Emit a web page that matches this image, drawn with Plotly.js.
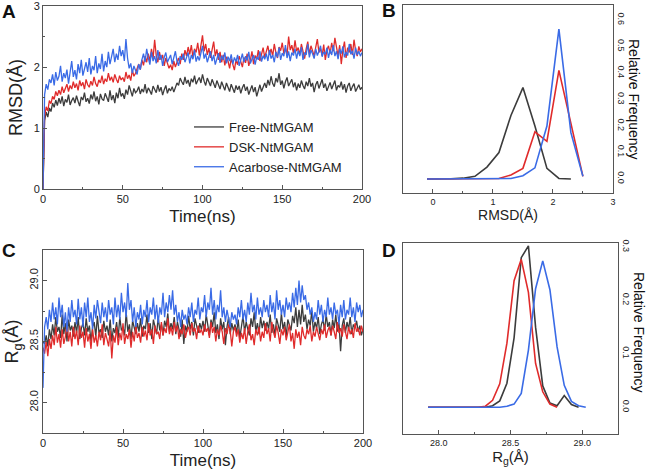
<!DOCTYPE html>
<html>
<head>
<meta charset="utf-8">
<script src="https://cdn.plot.ly/plotly-3.0.1.min.js"></script>
<style>html,body{margin:0;padding:0;background:#fff}#chart{width:648px;height:471px}</style>
</head>
<body>
<div id="chart"></div>
<script>
// ---------- DATA ----------
const seriesNames = ["Free-NtMGAM", "DSK-NtMGAM", "Acarbose-NtMGAM"];
const seriesColors = ["#3c3c3c", "#e02b2b", "#3a6be6"];

// Panel A: RMSD (Å) vs time (ns), one value per ns from 0 to 200
const rmsdFree = [
0,1.12,1.26,1.18,1.33,1.27,1.41,1.34,1.46,1.37,1.49,1.40,1.52,1.36,1.47,1.42,1.55,1.38,1.45,1.50,
1.41,1.53,1.44,1.36,1.51,1.46,1.58,1.43,1.49,1.40,1.55,1.47,1.60,1.44,1.52,1.39,1.56,1.48,1.45,1.57,
1.50,1.43,1.62,1.46,1.54,1.41,1.58,1.49,1.66,1.52,1.57,1.48,1.63,1.55,1.70,1.59,1.52,1.65,1.58,1.61,
1.68,1.56,1.64,1.59,1.72,1.57,1.66,1.61,1.55,1.69,1.62,1.58,1.71,1.60,1.67,1.54,1.63,1.70,1.57,1.65,
1.61,1.68,1.59,1.66,1.74,1.70,1.82,1.76,1.71,1.84,1.73,1.79,1.68,1.81,1.75,1.86,1.72,1.78,1.83,1.74,
1.88,1.77,1.70,1.82,1.75,1.69,1.80,1.73,1.66,1.78,1.71,1.64,1.76,1.68,1.62,1.74,1.67,1.60,1.72,1.65,
1.58,1.70,1.63,1.69,1.57,1.66,1.72,1.61,1.68,1.55,1.64,1.70,1.59,1.67,1.52,1.63,1.71,1.60,1.68,1.74,
1.66,1.79,1.70,1.85,1.73,1.68,1.82,1.75,1.90,1.71,1.78,1.65,1.76,1.83,1.69,1.74,1.80,1.67,1.75,1.62,
1.73,1.66,1.78,1.70,1.64,1.76,1.69,1.82,1.68,1.74,1.59,1.71,1.77,1.65,1.72,1.80,1.66,1.73,1.61,1.69,
1.75,1.64,1.71,1.78,1.62,1.70,1.67,1.76,1.63,1.72,1.58,1.69,1.74,1.61,1.68,1.73,1.60,1.66,1.71,1.63,1.67];
const rmsdDSK = [
0,1.18,1.35,1.28,1.45,1.40,1.52,1.47,1.60,1.53,1.62,1.55,1.68,1.58,1.65,1.72,1.60,1.70,1.64,1.76,
1.66,1.73,1.62,1.78,1.69,1.75,1.64,1.80,1.71,1.67,1.77,1.70,1.84,1.73,1.68,1.79,1.74,1.86,1.72,1.81,
1.76,1.90,1.78,1.84,1.75,1.88,1.80,1.74,1.86,1.79,1.83,1.76,1.92,1.81,1.87,1.78,1.95,1.85,1.90,1.98,
2.05,1.96,2.12,2.03,2.18,2.08,2.22,2.10,2.30,2.14,2.45,2.19,2.08,2.25,2.12,2.20,2.02,2.15,2.06,1.98,
2.04,1.95,2.10,2.00,2.08,2.15,2.05,2.22,2.12,2.28,2.18,2.33,2.21,2.36,2.16,2.30,2.24,2.40,2.19,2.34,
2.52,2.26,2.38,2.20,2.31,2.15,2.27,2.42,2.18,2.29,2.12,2.25,2.08,2.20,2.03,2.17,2.10,1.98,2.14,2.06,
1.95,2.12,2.04,2.18,2.09,2.00,2.16,2.07,2.22,2.02,2.11,2.26,2.05,2.19,2.13,2.28,2.10,2.21,2.32,2.16,
2.25,2.35,2.20,2.30,2.18,2.38,2.24,2.15,2.33,2.27,2.40,2.22,2.31,2.19,2.50,2.28,2.36,2.23,2.44,2.26,
2.32,2.20,2.38,2.25,2.14,2.30,2.42,2.21,2.35,2.27,2.18,2.33,2.46,2.24,2.30,2.19,2.37,2.12,2.28,2.35,
2.22,2.40,2.26,2.48,2.30,2.18,2.36,2.05,2.28,2.42,2.15,2.32,2.24,2.38,2.20,2.45,2.27,2.18,2.34,2.25,2.30];
const rmsdAcarbose = [
0,1.55,1.72,1.63,1.80,1.74,1.88,1.70,1.92,1.78,1.85,2.02,1.76,1.90,1.82,1.96,1.73,1.88,2.10,1.84,
1.95,1.80,2.05,1.90,2.12,1.86,1.98,2.08,1.92,2.15,1.88,2.02,1.95,2.18,1.90,2.06,1.97,2.22,1.93,2.10,
2.00,2.25,2.05,2.16,2.30,2.08,2.22,2.12,2.35,2.18,2.28,2.10,2.46,2.15,1.98,2.06,1.90,2.02,1.94,1.88,
2.05,1.96,2.12,2.22,2.08,2.30,2.15,2.04,2.25,2.10,2.18,2.06,2.28,2.12,2.20,2.02,2.16,2.24,2.08,2.14,
2.20,2.05,2.15,2.26,2.10,2.02,2.18,2.12,2.22,2.08,2.16,2.24,2.06,2.20,2.13,2.28,2.09,2.18,2.11,2.25,
2.35,2.14,2.22,2.08,2.18,2.26,2.10,2.20,2.04,2.16,2.23,2.07,2.19,2.12,2.24,2.06,2.17,2.10,2.21,2.05,
2.16,2.09,2.20,2.02,2.14,2.22,2.08,2.18,2.11,2.25,2.06,2.15,2.20,2.04,2.17,2.12,2.26,2.09,2.19,2.13,
2.22,2.10,2.28,2.14,2.20,2.08,2.25,2.16,2.32,2.12,2.23,2.18,2.36,2.15,2.26,2.10,2.24,2.19,2.30,2.14,
2.27,2.18,2.33,2.12,2.24,2.20,2.38,2.16,2.28,2.22,2.14,2.30,2.19,2.26,2.35,2.17,2.25,2.21,2.32,2.15,
2.28,2.20,2.36,2.18,2.26,2.13,2.30,2.22,2.34,2.16,2.25,2.19,2.38,2.21,2.27,2.14,2.32,2.20,2.26,2.18,2.24];

// Panel C: Rg (Å) vs time (ns)
const rgFree = [
28.50,28.48,28.55,28.46,28.60,28.52,28.64,28.55,28.70,28.58,28.62,28.53,28.72,28.56,28.65,28.50,28.68,28.59,28.63,28.54,
28.66,28.57,28.70,28.52,28.61,28.65,28.55,28.69,28.58,28.63,28.50,28.62,28.66,28.54,28.71,28.57,28.60,28.53,28.67,28.58,
28.63,28.55,28.68,28.50,28.61,28.57,28.66,28.53,28.70,28.59,28.62,28.55,28.74,28.58,28.64,28.52,28.67,28.60,28.56,28.65,
28.58,28.69,28.54,28.63,28.60,28.72,28.57,28.65,28.52,28.68,28.61,28.56,28.70,28.59,28.64,28.55,28.67,28.62,28.73,28.58,
28.65,28.60,28.70,28.56,28.66,28.61,28.54,28.68,28.48,28.63,28.58,28.71,28.60,28.66,28.55,28.69,28.62,28.57,28.65,28.60,
28.67,28.58,28.72,28.61,28.55,28.68,28.62,28.74,28.57,28.64,28.52,28.69,28.60,28.66,28.47,28.62,28.70,28.56,28.65,28.59,
28.64,28.57,28.68,28.53,28.62,28.71,28.58,28.66,28.60,28.55,28.69,28.62,28.74,28.58,28.65,28.56,28.70,28.61,28.67,28.59,
28.66,28.60,28.72,28.57,28.64,28.55,28.69,28.62,28.58,28.73,28.60,28.66,28.54,28.68,28.63,28.59,28.71,28.65,28.78,28.62,
28.76,28.64,28.80,28.66,28.72,28.60,28.68,28.63,28.75,28.58,28.66,28.61,28.70,28.56,28.64,28.68,28.59,28.72,28.62,28.66,
28.55,28.68,28.61,28.72,28.58,28.65,28.42,28.63,28.69,28.57,28.66,28.60,28.70,28.56,28.64,28.61,28.67,28.58,28.63,28.55,28.60];
const rgDSK = [
28.45,28.40,28.50,28.38,28.52,28.44,28.55,28.47,28.62,28.49,28.56,28.45,28.60,28.48,28.54,28.66,28.50,28.58,28.46,28.62,
28.52,28.59,28.47,28.63,28.53,28.58,28.45,28.61,28.50,28.56,28.44,28.60,28.49,28.55,28.46,28.58,28.51,28.64,28.47,28.57,
28.52,28.46,28.59,28.36,28.55,28.49,28.62,28.47,28.57,28.51,28.65,28.48,28.56,28.52,28.60,28.45,28.58,28.50,28.63,28.53,
28.57,28.49,28.62,28.54,28.59,28.51,28.65,28.55,28.60,28.48,28.63,28.56,28.58,28.52,28.66,28.55,28.61,28.57,28.69,28.56,
28.62,28.55,28.66,28.58,28.63,28.52,28.60,28.56,28.64,28.53,28.59,28.62,28.55,28.65,28.58,28.61,28.52,28.63,28.57,28.60,
28.55,28.64,28.58,28.61,28.53,28.66,28.57,28.62,28.50,28.60,28.55,28.63,28.58,28.48,28.61,28.56,28.64,28.59,28.46,28.58,
28.62,28.54,28.60,28.49,28.57,28.52,28.61,28.48,28.58,28.64,28.51,28.56,28.47,28.60,28.55,28.62,28.50,28.58,28.53,28.65,
28.56,28.61,28.50,28.66,28.58,28.53,28.63,28.57,28.48,28.60,28.55,28.62,28.51,28.58,28.64,28.50,28.57,28.44,28.60,28.53,
28.58,28.47,28.62,28.55,28.52,28.60,28.56,28.63,28.50,28.58,28.54,28.62,28.57,28.51,28.60,28.56,28.64,28.53,28.59,28.62,
28.55,28.63,28.58,28.52,28.66,28.57,28.61,28.54,28.64,28.59,28.52,28.62,28.56,28.60,28.53,28.65,28.58,28.61,28.55,28.63,28.58];
const rgAcarbose = [
28.12,28.62,28.70,28.60,28.76,28.66,28.82,28.68,28.78,28.64,28.86,28.70,28.80,28.62,28.74,28.58,28.78,28.66,28.84,28.70,
28.76,28.64,28.85,28.68,28.78,28.62,28.82,28.70,28.86,28.66,28.74,28.60,28.80,28.69,28.84,28.72,28.65,28.82,28.70,28.78,
28.66,28.84,28.72,28.78,28.64,28.86,28.70,28.80,28.68,28.90,28.74,28.82,28.70,28.98,28.76,28.84,28.66,28.78,28.62,28.74,
28.68,28.80,28.64,28.76,28.70,28.84,28.66,28.78,28.72,28.86,28.68,28.80,28.65,28.78,28.72,28.90,28.70,28.82,28.74,28.88,
28.76,28.92,28.72,28.80,28.66,28.74,28.62,28.76,28.68,28.72,28.64,28.78,28.70,28.82,28.66,28.76,28.72,28.86,28.68,28.78,
28.74,28.88,28.70,28.82,28.76,28.94,28.72,28.84,28.68,28.80,28.74,28.92,28.70,28.78,28.66,28.76,28.70,28.62,28.74,28.68,
28.72,28.64,28.78,28.70,28.84,28.68,28.76,28.66,28.82,28.72,28.90,28.74,28.80,28.68,28.86,28.72,28.78,28.70,28.84,28.74,
28.80,28.70,28.88,28.74,28.82,28.68,28.92,28.76,28.84,28.72,28.80,28.70,28.86,28.76,28.82,28.74,28.90,28.78,28.94,28.80,
29.00,28.82,28.96,28.84,28.88,28.76,28.82,28.72,28.78,28.66,28.74,28.68,28.84,28.72,28.80,28.66,28.76,28.70,28.86,28.72,
28.78,28.68,28.82,28.72,28.76,28.64,28.80,28.70,28.84,28.68,28.76,28.72,28.86,28.70,28.78,28.66,28.82,28.74,28.80,28.70,28.76];

// Panel B: RMSD distribution (bin centres, Å) and relative frequency
const rmsdBins = [-0.1,0.1,0.3,0.5,0.7,0.9,1.1,1.3,1.5,1.7,1.9,2.1,2.3,2.5];
const rmsdFreqFree = [0,0,0.001,0.003,0.01,0.045,0.1,0.24,0.345,0.2,0.04,0.002,0];
const rmsdFreqDSK = [0,0,0,0,0,0,0.002,0.015,0.04,0.178,0.142,0.41,0.204,0.01];
const rmsdFreqAcarbose = [0,0,0,0,0,0,0,0.002,0.012,0.042,0.2,0.566,0.175,0.01];

// Panel D: Rg distribution (bin centres, Å) and relative frequency
const rgBins = [27.925,27.975,28.025,28.075,28.125,28.175,28.225,28.275,28.325,28.375,28.425,28.475,
                28.525,28.575,28.625,28.675,28.725,28.775,28.825,28.875,28.925,28.975,29.025];
const rgFreqFree = [0,0,0,0,0,0,0,0,0,0.003,0.012,0.045,0.13,0.28,0.302,0.15,0.04,0.008,0.003,0.022,0.005,0];
const rgFreqDSK = [0,0,0,0,0,0,0,0,0.002,0.013,0.044,0.12,0.237,0.277,0.215,0.082,0.029,0.006,0];
const rgFreqAcarbose = [0,0,0,0,0,0,0,0,0,0,0,0.002,0.006,0.026,0.107,0.222,0.274,0.22,0.113,0.041,0.011,0.003,0];

const timeNs = Array.from({length: rmsdFree.length}, (_, i) => i);

// ---------- FIGURE ----------
const W = 648, H = 471;
const FONT = "Arial, 'Liberation Sans', sans-serif";
const AX = "#555";
const fx = p => p / W, fy = p => 1 - p / H;

const tsRmsd = [rmsdFree, rmsdDSK, rmsdAcarbose];
const tsRg = [rgFree, rgDSK, rgAcarbose];
const hRmsd = [rmsdFreqFree, rmsdFreqDSK, rmsdFreqAcarbose];
const hRg = [rgFreqFree, rgFreqDSK, rgFreqAcarbose];

const traces = [];
seriesNames.forEach((n, i) => traces.push({
  x: timeNs, y: tsRmsd[i], type: "scatter", mode: "lines", name: n,
  line: {color: seriesColors[i], width: 1.3}, xaxis: "x", yaxis: "y", showlegend: true
}));
seriesNames.forEach((n, i) => traces.push({
  x: rmsdBins.slice(0, hRmsd[i].length), y: hRmsd[i], type: "scatter", mode: "lines", name: n,
  line: {color: seriesColors[i], width: 1.6}, xaxis: "x2", yaxis: "y2", showlegend: false
}));
seriesNames.forEach((n, i) => traces.push({
  x: timeNs, y: tsRg[i], type: "scatter", mode: "lines", name: n,
  line: {color: seriesColors[i], width: 1.3}, xaxis: "x3", yaxis: "y3", showlegend: false
}));
seriesNames.forEach((n, i) => traces.push({
  x: rgBins.slice(0, hRg[i].length), y: hRg[i], type: "scatter", mode: "lines", name: n,
  line: {color: seriesColors[i], width: 1.6}, xaxis: "x4", yaxis: "y4", showlegend: false
}));

const baseAxis = {
  showline: true, linecolor: AX, linewidth: 1, mirror: true, showgrid: false, zeroline: false,
  ticks: "inside", ticklen: 4, tickcolor: AX, tickwidth: 1,
  tickfont: {family: FONT, size: 11, color: "#222"}
};

function label(text, x, y, size, angle) {
  return {text: text, x: fx(x), y: fy(y), xref: "paper", yref: "paper", showarrow: false,
          xanchor: "center", yanchor: "middle", textangle: angle || 0,
          font: {family: FONT, size: size, color: "#111"}};
}

const layout = {
  width: W, height: H,
  margin: {l: 0, r: 0, t: 0, b: 0},
  paper_bgcolor: "#fff", plot_bgcolor: "#fff",
  font: {family: FONT, color: "#222"},
  showlegend: true,
  legend: {
    x: fx(189), y: fy(112), xanchor: "left", yanchor: "top",
    bgcolor: "rgba(0,0,0,0)", borderwidth: 0,
    font: {family: FONT, size: 13, color: "#222"},
    tracegroupgap: 0, itemwidth: 30
  },
  xaxis: Object.assign({}, baseAxis, {
    domain: [fx(43), fx(362)], range: [0, 200], tickvals: [0, 50, 100, 150, 200],
    minor: {dtick: 25, ticks: "inside", ticklen: 2, tickcolor: AX},
    anchor: "y",
    title: {text: "Time(ns)", font: {family: FONT, size: 17, color: "#222"}, standoff: 5}
  }),
  yaxis: Object.assign({}, baseAxis, {
    domain: [fy(189), fy(6)], range: [0, 3.003], tickvals: [0, 1, 2, 3],
    minor: {dtick: 0.5, ticks: "inside", ticklen: 2, tickcolor: AX},
    anchor: "x",
    title: {text: "RMSD(Å)", font: {family: FONT, size: 18, color: "#222"}, standoff: 6}
  }),
  xaxis2: Object.assign({}, baseAxis, {
    domain: [fx(403), fx(613)], range: [-0.5, 3.002], tickvals: [0, 1, 2, 3],
    minor: {dtick: 0.5, ticks: "inside", ticklen: 2, tickcolor: AX},
    tickfont: {family: FONT, size: 9, color: "#222"},
    anchor: "y2",
    title: {text: "RMSD(Å)", font: {family: FONT, size: 14, color: "#222"}, standoff: 2}
  }),
  yaxis2: Object.assign({}, baseAxis, {
    domain: [fy(193), fy(5)], range: [-0.053, 0.657], tickvals: [0, 0.1, 0.2, 0.3, 0.4, 0.5, 0.6],
    tickformat: ".1f", side: "right", tickangle: 90, ticks: "", anchor: "x2",
    tickfont: {family: FONT, size: 9, color: "#222"}
  }),
  xaxis3: Object.assign({}, baseAxis, {
    domain: [fx(43), fx(363)], range: [0, 200], tickvals: [0, 50, 100, 150, 200],
    minor: {dtick: 25, ticks: "inside", ticklen: 2, tickcolor: AX},
    anchor: "y3",
    title: {text: "Time(ns)", font: {family: FONT, size: 17, color: "#222"}, standoff: 5}
  }),
  yaxis3: Object.assign({}, baseAxis, {
    domain: [fy(433), fy(250)], range: [27.75, 29.25], tickvals: [28.0, 28.5, 29.0],
    tickformat: ".1f", tickangle: -90,
    minor: {dtick: 0.25, ticks: "inside", ticklen: 2, tickcolor: AX},
    anchor: "x3",
    title: {text: "R<sub>g</sub>(Å)", font: {family: FONT, size: 18, color: "#222"}, standoff: 4}
  }),
  xaxis4: Object.assign({}, baseAxis, {
    domain: [fx(403), fx(618)], range: [27.75, 29.25], tickvals: [28.0, 28.5, 29.0],
    tickformat: ".1f",
    minor: {dtick: 0.25, ticks: "inside", ticklen: 2, tickcolor: AX},
    tickfont: {family: FONT, size: 9, color: "#222"},
    anchor: "y4",
    title: {text: "R<sub>g</sub>(Å)", font: {family: FONT, size: 15, color: "#222"}, standoff: 2}
  }),
  yaxis4: Object.assign({}, baseAxis, {
    domain: [fy(434), fy(243)], range: [-0.05, 0.3075], tickvals: [0, 0.1, 0.2, 0.3],
    tickformat: ".1f", side: "right", tickangle: 90, ticks: "", anchor: "x4",
    tickfont: {family: FONT, size: 9, color: "#222"}
  }),
  annotations: [
    label("<b>A</b>", 9, 12, 19),
    label("<b>B</b>", 389, 11, 19),
    label("<b>C</b>", 9, 250, 19),
    label("<b>D</b>", 389, 250, 19),
    label("Relative Frequency", 634, 99, 14, 90),
    label("Relative Frequency", 639, 332, 14, 90)
  ]
};

Plotly.newPlot("chart", traces, layout, {displayModeBar: false, staticPlot: true});
</script>
</body>
</html>
